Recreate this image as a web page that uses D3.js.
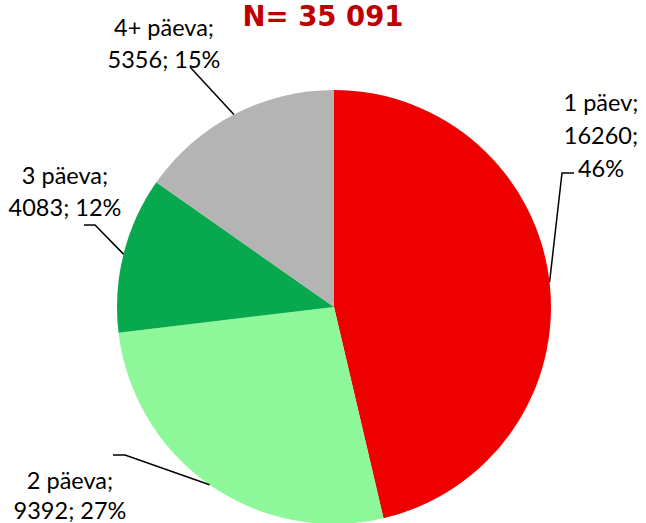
<!DOCTYPE html>
<html>
<head>
<meta charset="utf-8">
<script src="https://cdn.jsdelivr.net/npm/d3@7"></script>
<style>
  html, body { margin: 0; padding: 0; background: #fff; }
  svg { display: block; }
</style>
</head>
<body>
<div id="chart"></div>
<script>
  // data
  const categories = ['1 päev', '2 päeva', '3 päeva', '4+ päeva'];
  const counts = [16260, 9392, 4083, 5356];
  const percents = [46, 27, 12, 15];
  const colors = ['#ee0000', '#8ef79a', '#07a84e', '#b4b4b4'];
  const title = 'N= 35 091';

  const width = 646, height = 523;
  const cx = 334, cy = 307, radius = 217;

  // label layout: text centre, baseline of each line, leader elbow points
  const labelLayout = [
    { x: 601, lines: [111, 144, 177], elbow: [[574, 173], [562, 173]] },
    { x: 70, lines: [489, 519], elbow: [[113, 455], [125, 455]] },
    { x: 65, lines: [184, 216], elbow: [[84, 225], [95, 225]] },
    { x: 164, lines: [36, 68], elbow: [[190, 67]] }
  ];

  const svg = d3.select('#chart').append('svg')
    .attr('width', width)
    .attr('height', height);

  const pie = d3.pie().sort(null).value(d => d)(counts);
  const arc = d3.arc().innerRadius(0).outerRadius(radius);

  const g = svg.append('g').attr('transform', `translate(${cx},${cy})`);
  g.selectAll('path')
    .data(pie)
    .join('path')
    .attr('d', arc)
    .attr('fill', (d, i) => colors[i]);

  // leader lines: from the label to the middle of the slice edge
  pie.forEach((d, i) => {
    const L = labelLayout[i];
    const a = (d.startAngle + d.endAngle) / 2;
    const px = cx + Math.sin(a) * radius;
    const py = cy - Math.cos(a) * radius;
    const pts = L.elbow.concat([[px, py]]);
    svg.append('path')
      .attr('d', d3.line()(pts))
      .attr('fill', 'none')
      .attr('stroke', '#000')
      .attr('stroke-width', 1.5);
  });

  // labels
  categories.forEach((c, i) => {
    const L = labelLayout[i];
    let parts;
    if (L.lines.length === 3) parts = [c + ';', counts[i] + ';', percents[i] + '%'];
    else parts = [c + ';', counts[i] + '; ' + percents[i] + '%'];
    const t = svg.append('text')
      .attr('text-anchor', 'middle')
      .attr('font-family', 'Lato, "Open Sans", sans-serif')
      .attr('font-size', 23.5)
      .attr('fill', '#000');
    parts.forEach((p, k) => {
      t.append('tspan').attr('x', L.x).attr('y', L.lines[k]).text(p);
    });
  });

  svg.append('text')
    .attr('x', 323)
    .attr('y', 26)
    .attr('text-anchor', 'middle')
    .attr('font-family', '"DejaVu Sans", Verdana, sans-serif')
    .attr('font-weight', 'bold')
    .attr('font-size', 27.5)
    .attr('fill', '#c00000')
    .text(title);
</script>
</body>
</html>
